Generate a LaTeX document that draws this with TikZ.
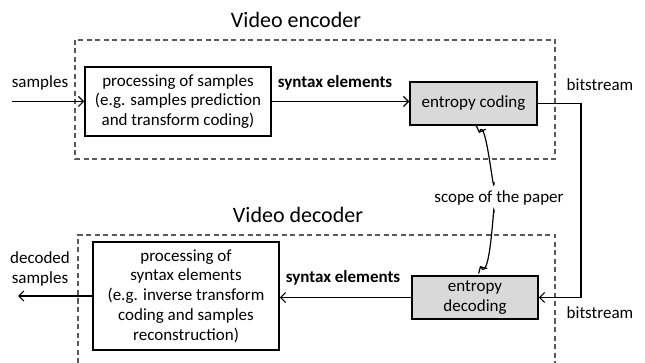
\documentclass[tikz,border=0pt]{standalone}
\usepackage{fontspec}
\setmainfont{Carlito}
\usetikzlibrary{positioning, arrows.meta}
\definecolor{boxgray}{HTML}{D9D9D9}
\definecolor{dashgray}{HTML}{595959}

\begin{document}
\begin{tikzpicture}[x=1pt, y=-1pt,
              every node/.style = {font=\fontsize{17}{19.8}\selectfont, inner sep=0pt, align=center},
              procbox/.style = {draw, line width=1.5pt, minimum width=186pt},
              entbox/.style = {draw, line width=1.5pt, fill=boxgray, minimum width=126pt, minimum height=43pt},
              dashbox/.style = {draw=dashgray, line width=1.1pt, dash pattern=on 5pt off 3.5pt},
              title/.style = {font=\fontsize{22}{26}\selectfont},
              flow/.style = {line width=1.2pt, -{Straight Barb[length=5pt,width=10pt]}},
              every path/.style = {line join=miter}]
  \useasboundingbox (0,0) rectangle (645,363);

  % encoder
  \draw[dashbox] (75,40) rectangle (555,159);
  \node[title] (enctitle) at (296,20) {Video encoder};
  \node[procbox, minimum height=69pt] (proc1) at (178,101.5)
    {processing of samples\\(e.g. samples prediction\\and transform coding)};
  \node[entbox, minimum width=127pt] (ent1) at (473.5,103.5) {entropy coding};
  \node (samp) at (40,83) {samples};
  \node[font=\fontsize{17}{19.8}\selectfont\bfseries] (syn1) at (335,83) {syntax elements};
  \node (bs1) at (600,85) {bitstream};
  \coordinate (sin) at (12,101.5);
  \draw[flow] (sin) -- (proc1.west);
  \draw[flow] (proc1.east) -- (proc1.east -| ent1.west);

  % decoder
  \draw[dashbox] (78,363) -- (78,235) -- (555,235) -- (555,363);
  \node[title] (dectitle) at (298,215) {Video decoder};
  \node[procbox, minimum height=108pt] (proc2) at (186,296)
    {processing of\\syntax elements\\(e.g. inverse transform\\coding and samples\\reconstruction)};
  \node[entbox] (ent2) at (475,297.5) {entropy\\decoding};
  \node (dsamp) at (40,269) {decoded\\samples};
  \node[font=\fontsize{17}{19.8}\selectfont\bfseries] (syn2) at (343,278) {syntax elements};
  \node (bs2) at (600,313) {bitstream};
  \coordinate (sout) at (18,296);
  \draw[flow] (ent2.west) -- (ent2.west -| proc2.east);
  \draw[flow] (proc2.west) -- (sout);

  % bitstream link
  \coordinate (bsx) at (581,200);
  \draw[flow] (ent1.east) -| (bsx) |- (ent2.east);

  % scope
  \node (scope) at (499,198) {scope of the paper};
  \coordinate (su) at (494,182);
  \coordinate (sut) at (479,133);
  \coordinate (sd) at (494,213);
  \coordinate (sdt) at (480,266);
  \draw[flow] (su) to[out=-90, in=70] (sut);
  \draw[flow] (sd) to[out=90, in=-60] (sdt);
\end{tikzpicture}
\end{document}
